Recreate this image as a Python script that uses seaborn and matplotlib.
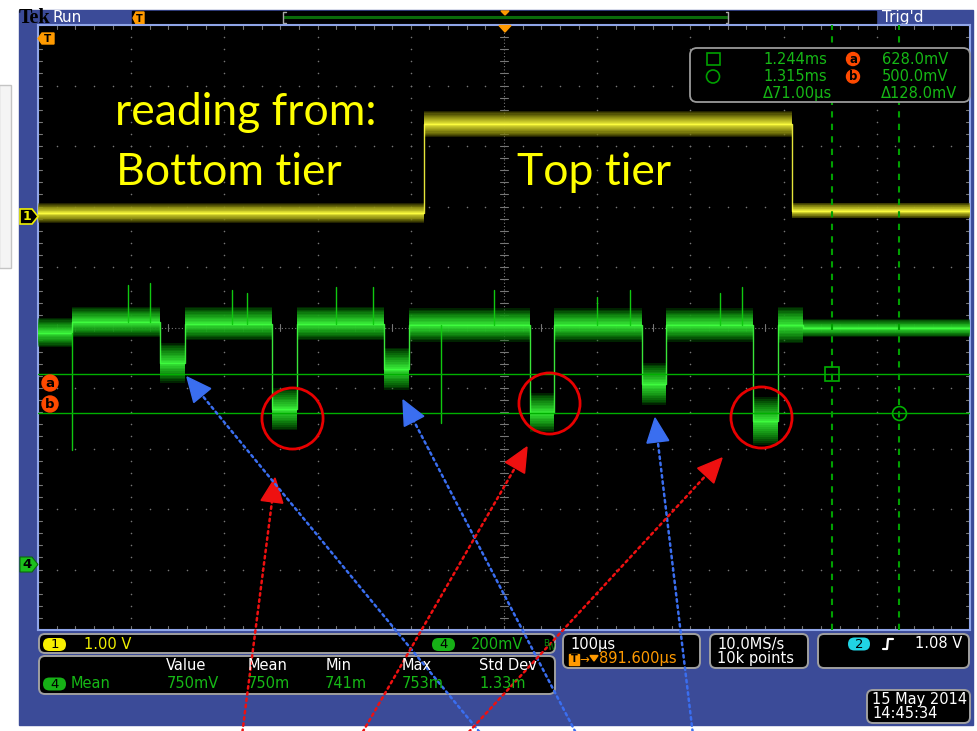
import numpy as np
import pandas as pd
import matplotlib
matplotlib.use("Agg")
import matplotlib.pyplot as plt
from matplotlib.colors import to_rgb
from matplotlib.patches import FancyBboxPatch, Polygon, Rectangle, Circle
import seaborn as sns

# ---------------- acquisition data ----------------
# Channel 4 (green, 200 mV/div): read-back levels of the sense line
ch4_start_us = [392, 428, 522, 549, 643, 670, 763, 790, 920, 945, 1040, 1065, 1159, 1186, 1212]
ch4_end_us   = [428, 522, 549, 643, 670, 763, 790, 920, 945, 1040, 1065, 1159, 1186, 1212, 1392]
ch4_level_v  = [0.765, 0.800, 0.665, 0.795, 0.512, 0.795, 0.645, 0.790, 0.500, 0.790, 0.595, 0.790, 0.472, 0.790, 0.780]
ch4_spread_v = [0.048, 0.050, 0.066, 0.055, 0.070, 0.055, 0.070, 0.055, 0.065, 0.055, 0.070, 0.055, 0.080, 0.060, 0.030]

# Channel 4 glitches (time, peak voltage)
ch4_glitch_us = [428, 488, 512, 600, 616, 711, 751, 824, 881, 991, 1027, 1123, 1147]
ch4_glitch_v  = [0.377, 0.922, 0.929, 0.906, 0.896, 0.916, 0.916, 0.466, 0.906, 0.883, 0.906, 0.896, 0.916]

# Channel 1 (yellow, 1 V/div): tier select
ch1_start_us = [392, 806, 1201]
ch1_end_us   = [806, 1201, 1392]
ch1_level_v  = [0.05, 1.52, 0.09]
ch1_spread_v = [0.16, 0.21, 0.13]

# Cursors
cursor_t_us = [1244.0, 1315.0]
cursor_v = [0.628, 0.500]

# Circled low read-outs (time, voltage)
circled_us = [664, 940, 1167]
circled_v = [0.483, 0.532, 0.486]

# Measurement readout
meas_headers = ["Value", "Mean", "Min", "Max", "Std Dev"]
meas_values = ["750mV", "750m", "741m", "753m", "1.33m"]

# Scope settings
t_center_us, t_per_div = 891.6, 100.0
ch4_per_div, ch4_offset_div = 0.2, 3.909
ch1_per_div, ch1_offset_div = 1.0, -1.843

# ---------------- figure ----------------
sns.set_style("dark")
plt.rcParams["font.family"] = ["DejaVu Sans"]

W, H = 978, 731
fig = plt.figure(figsize=(W / 100, H / 100), dpi=100)
fig.patch.set_facecolor("white")

FRAME = "#3b4b98"
ORANGE = "#ff9a00"
GREEN_TXT = "#16b816"
GRID = "#767676"


def px_axes(z):
    a = fig.add_axes([0, 0, 1, 1], zorder=z)
    a.set_xlim(0, W)
    a.set_ylim(H, 0)
    a.axis("off")
    a.patch.set_alpha(0)
    return a


bg = px_axes(0)
bg.add_patch(Rectangle((-1, 85), 12, 183, fc="#f4f4f4", ec="#c4c4c4", lw=1))
bg.add_patch(Rectangle((19, 10), 954, 715, color=FRAME))
# record view strip
bg.add_patch(Rectangle((132, 11), 744, 13, color="black"))
bg.plot([284, 727], [16.5, 16.5], color="#0a6a0a", lw=2.2)
bg.plot([285.5, 283, 283, 285.5], [12, 12, 23, 23], color="#a8a8a8", lw=1)
bg.plot([725.5, 728, 728, 725.5], [12, 12, 23, 23], color="#a8a8a8", lw=1)
bg.add_patch(Polygon([(133, 18), (136, 12), (144, 12), (144, 24), (136, 24)], color=ORANGE))
bg.text(139.5, 18.5, "T", color="black", fontsize=7, fontweight="bold", ha="center", va="center")
bg.add_patch(Polygon([(501, 11), (509, 11), (505, 15)], color=ORANGE))
bg.text(19, 18, "Tek", family="Liberation Serif", fontweight="bold", fontsize=14.5,
        color="black", va="center")
bg.text(52, 17.5, "Run", color="white", fontsize=11, va="center")
bg.text(882, 17.5, "Trig'd", color="white", fontsize=11, va="center")

# ---------------- graticule ----------------
rect = [38 / W, (H - 630) / H, 932 / W, 605 / H]
gax = fig.add_axes(rect, zorder=1)
gax.set_facecolor("black")
gax.set_xlim(0, 10)
gax.set_ylim(0, 10)
gax.set_xticks([])
gax.set_yticks([])
for s in gax.spines.values():
    s.set_color("#8fa5e8")
    s.set_linewidth(1.5)

minor = np.round(np.arange(0, 10.001, 0.2), 3)
major = [1, 2, 3, 4, 6, 7, 8, 9]
dots_x = [m for m in major for _ in minor] + [v for _ in major for v in minor]
dots_y = [v for _ in major for v in minor] + [m for m in major for _ in minor]
gax.scatter(dots_x, dots_y, s=1.3, color=GRID, lw=0)
gax.axvline(5, color=GRID, lw=0.8, ls=(0, (1, 2)))
gax.axhline(5, color=GRID, lw=0.8, ls=(0, (1, 2)))
for v in minor:
    gax.plot([4.96, 5.04], [v, v], color=GRID, lw=0.8)
    gax.plot([v, v], [4.94, 5.06], color=GRID, lw=0.8)
    gax.plot([0, 0.045], [v, v], color=GRID, lw=0.8)
    gax.plot([9.955, 10], [v, v], color=GRID, lw=0.8)
    gax.plot([v, v], [0, 0.06], color=GRID, lw=0.8)
    gax.plot([v, v], [9.94, 10], color=GRID, lw=0.8)

xlim = (t_center_us - 5 * t_per_div, t_center_us + 5 * t_per_div)


def channel_axes(z, per_div, offset_div):
    a = fig.add_axes(rect, zorder=z)
    a.patch.set_alpha(0)
    a.set_xlim(*xlim)
    a.set_ylim(-(5 - offset_div) * per_div, (5 + offset_div) * per_div)
    a.axis("off")
    return a


ax1 = channel_axes(2, ch1_per_div, ch1_offset_div)
ax4 = channel_axes(3, ch4_per_div, ch4_offset_div)


def draw_trace(a, starts, ends, levels, spread, edge, core, layers=12):
    """Persistence-style band: stacked translucent fills, brightest at the centre."""
    t = np.ravel(np.column_stack([starts, ends]))
    v = np.repeat(levels, 2)
    w = np.repeat(spread, 2)
    e, c = np.array(to_rgb(edge)), np.array(to_rgb(core))
    for k in range(layers):
        f = 1.0 - k / layers
        col = e + (c - e) * (k / (layers - 1))
        a.fill_between(t, v - w * f, v + w * f, color=col, alpha=0.34, lw=0)
    df = pd.DataFrame({"t": t, "v": v})
    sns.lineplot(data=df, x="t", y="v", ax=a, sort=False, estimator=None,
                 color=core, lw=1.0, alpha=0.9)


draw_trace(ax1, ch1_start_us, ch1_end_us, ch1_level_v, ch1_spread_v, "#666600", "#ffff40")
draw_trace(ax4, ch4_start_us, ch4_end_us, ch4_level_v, ch4_spread_v, "#006600", "#40ff40")

# glitches rise from the local level
seg = np.searchsorted(ch4_end_us, ch4_glitch_us, side="left")
base = np.array(ch4_level_v)[seg]
gdf = pd.DataFrame({
    "t": np.repeat(ch4_glitch_us, 2),
    "v": np.ravel(np.column_stack([base, ch4_glitch_v])),
    "id": np.repeat(np.arange(len(ch4_glitch_us)), 2),
})
sns.lineplot(data=gdf, x="t", y="v", units="id", estimator=None, sort=False,
             ax=ax4, color="#10c810", lw=1.0)

# cursors
for v in cursor_v:
    ax4.axhline(v, color="#00b000", lw=1.0)
for t in cursor_t_us:
    ax4.axvline(t, color="#00a000", lw=1.5, ls=(0, (3, 3)))
ax4.plot(cursor_t_us[0], cursor_v[0], marker="s", ms=10, mfc="none", mec="#00b000", mew=1.2)
ax4.plot(cursor_t_us[1], cursor_v[1], marker="o", ms=10, mfc="none", mec="#00b000", mew=1.2)

# circled read-outs
ax4.plot(circled_us, circled_v, ls="none", marker="o", ms=44, mfc="none",
         mec="#e80000", mew=2.0)

# ---------------- overlay ----------------
ov = px_axes(10)

# markers on the graticule edge
ov.add_patch(Polygon([(38, 38.5), (42, 33), (54, 33), (54, 44), (42, 44)], color=ORANGE))
ov.text(47.5, 38.8, "T", color="black", fontsize=7.5, fontweight="bold", ha="center", va="center")
ov.add_patch(Polygon([(499, 25.5), (511, 25.5), (505, 32)], color=ORANGE))
ov.add_patch(Polygon([(20, 209), (32, 209), (38, 216.5), (32, 224), (20, 224)],
                     fc="black", ec="#f0f000", lw=1.2))
ov.text(27, 216.8, "1", color="#f0f000", fontsize=9, fontweight="bold", ha="center", va="center")
ov.add_patch(Polygon([(20, 557), (32, 557), (38, 564.5), (32, 572), (20, 572)],
                     fc="#1cc01c", ec="#0c6a0c", lw=0.8))
ov.text(27, 564.8, "4", color="black", fontsize=9.5, fontweight="bold", ha="center", va="center")


def badge(x, y, letter, r=7.5, size=9.5):
    ov.add_patch(Circle((x, y), r, color="#ff4a00"))
    ov.text(x, y + 0.5, letter, color="black", fontsize=size, fontweight="bold",
            ha="center", va="center")


badge(50, 383, "a", 8)
badge(50, 404, "b", 8)

# cursor readout box
ov.add_patch(FancyBboxPatch((690, 48), 280, 54, boxstyle="round,pad=0,rounding_size=7",
                            fc="black", ec="#9a9a9a", lw=1.3))
ov.add_patch(Rectangle((707, 53), 13, 12, fc="none", ec="#00a000", lw=1.2))
ov.add_patch(Circle((713, 76.5), 6.5, fc="none", ec="#00a000", lw=1.2))
for y, tv, lab, vv in [(59, "1.244ms", "a", "628.0mV"), (76.5, "1.315ms", "b", "500.0mV")]:
    ov.text(827, y, tv, color=GREEN_TXT, fontsize=10.5, ha="right", va="center")
    badge(853, y, lab, 6.5, 8.5)
    ov.text(948, y, vv, color=GREEN_TXT, fontsize=10.5, ha="right", va="center")
ov.text(832, 93.5, "\u039471.00\u00b5s", color=GREEN_TXT, fontsize=10.5, ha="right", va="center")
ov.text(957, 93.5, "\u0394128.0mV", color=GREEN_TXT, fontsize=10.5, ha="right", va="center")

# annotations
ov.text(115, 125, "reading from:", color="#ffff00", fontsize=32, family="Lato", va="baseline")
ov.text(116, 185, "Bottom tier", color="#ffff00", fontsize=32, family="Lato", va="baseline")
ov.text(517, 185, "Top tier", color="#ffff00", fontsize=32, family="Lato", va="baseline")

# ---------------- bottom readouts ----------------


def panel(x, y, w, h):
    ov.add_patch(FancyBboxPatch((x, y), w, h, boxstyle="round,pad=0,rounding_size=6",
                                fc="black", ec="#a0a0a0", lw=1.4))


def pill(x, y, w, h, text, fc):
    ov.add_patch(FancyBboxPatch((x, y), w, h, boxstyle="round,pad=0,rounding_size=6.5",
                                fc=fc, ec="none"))
    ov.text(x + w / 2, y + h / 2 + 0.5, text, color="black", fontsize=9.5,
            ha="center", va="center")


panel(39, 634, 516, 19)
pill(43, 638, 23, 13, "1", "#f8f000")
ov.text(84, 644.5, "1.00 V", color="#f0f000", fontsize=10.5, va="center")
pill(432, 638, 23, 13, "4", "#16b016")
ov.text(471, 644.5, "200mV", color=GREEN_TXT, fontsize=10.5, va="center")
ov.text(543, 643, "B", color="#0c8a0c", fontsize=6.5, va="center")
ov.text(548, 647, "W", color="#0c8a0c", fontsize=5.5, va="center")

panel(39, 656, 516, 38)
head_x = [166, 248, 326, 402, 479]
val_x = [167, 248, 325, 402, 479]
for hx, vx, hd, vl in zip(head_x, val_x, meas_headers, meas_values):
    ov.text(hx, 665.5, hd, color="white", fontsize=10.5, va="center")
    ov.text(vx, 684, vl, color=GREEN_TXT, fontsize=10.5, va="center")
pill(43, 677.5, 23, 13, "4", "#16b016")
ov.text(71, 684, "Mean", color=GREEN_TXT, fontsize=10.5, va="center")

panel(563, 634, 137, 34)
ov.text(570, 644, "100\u00b5s", color="white", fontsize=10.5, va="center")
ov.add_patch(Rectangle((569, 653.5), 9.5, 11, color=ORANGE))
ov.text(573.8, 659.3, "T", color="black", fontsize=7, fontweight="bold", ha="center", va="center")
ov.text(579, 659, "\u2192", color=ORANGE, fontsize=8.5, va="center")
ov.add_patch(Polygon([(590, 655.5), (598, 655.5), (594, 661)], color=ORANGE))
ov.text(599, 659, "891.600\u00b5s", color=ORANGE, fontsize=10.5, va="center")

panel(710, 634, 98, 34)
ov.text(717, 644, "10.0MS/s", color="white", fontsize=10.5, va="center")
ov.text(717, 659, "10k points", color="white", fontsize=10.5, va="center")

panel(818, 634, 151, 34)
pill(848, 637.5, 22, 13, "2", "#20d4e4")
ov.plot([883, 887, 888, 893], [649, 649, 639, 639], color="white", lw=1.6)
ov.text(962, 644, "1.08 V", color="white", fontsize=10.5, ha="right", va="center")

panel(867, 690, 103, 33)
ov.text(872, 699.5, "15 May 2014", color="white", fontsize=10.5, va="center")
ov.text(872, 714, "14:45:34", color="white", fontsize=10.5, va="center")

# ---------------- callout arrows ----------------
BLUE = "#3a6ef0"
RED = "#ee1010"
arrows = [
    ((482, 735), (187, 377), BLUE),
    ((577, 735), (403, 400), BLUE),
    ((693, 735), (655, 418), BLUE),
    ((242, 735), (275, 478), RED),
    ((361, 735), (527, 447), RED),
    ((466, 735), (722, 458), RED),
]
for (x0, y0), (x1, y1), col in arrows:
    d = np.array([x1 - x0, y1 - y0], float)
    d /= np.hypot(*d)
    n = np.array([-d[1], d[0]])
    tip = np.array([x1, y1], float)
    basec = tip - d * 24
    ov.plot([x0, basec[0]], [y0, basec[1]], color=col, lw=1.8, ls=(0, (1, 1.5)),
            dash_capstyle="round")
    ov.add_patch(Polygon([tip, basec + n * 11, basec - n * 11], color=col))

fig.savefig("out.png", dpi=100, facecolor="white")
